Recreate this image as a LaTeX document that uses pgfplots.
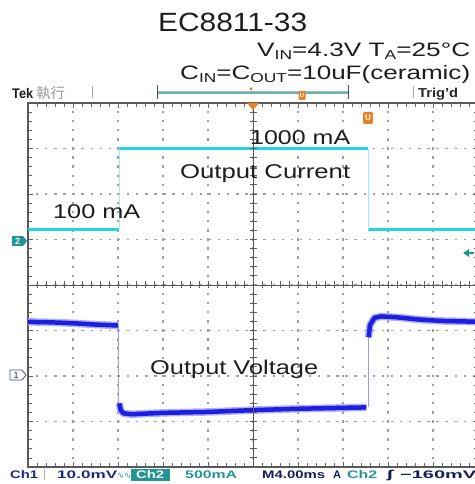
\documentclass[border=0pt]{standalone}
\usepackage{fontspec}
\setmainfont{Liberation Sans}
\newfontfamily\cjk{Noto Sans CJK TC}
\newfontfamily\dejavu{DejaVu Sans}
\usepackage{graphicx}
\usepackage{pgfplots}
\pgfplotsset{compat=1.18}
\definecolor{cyantrace}{RGB}{32,214,226}
\definecolor{bluetrace}{RGB}{30,30,225}
\definecolor{scopeteal}{RGB}{34,150,150}
\definecolor{scopenavy}{RGB}{30,40,130}
\definecolor{scopeorange}{RGB}{232,128,40}
\definecolor{txt}{RGB}{30,30,30}
\newcommand{\tx}[5]{\node[anchor=base west,inner sep=0pt,text=#4] at (#1bp,#2bp) {\resizebox{#3bp}{\height}{#5}};}
\newcommand{\sub}[1]{\raisebox{-3bp}{\fontsize{13}{13}\selectfont #1}}
\begin{document}
\begin{tikzpicture}
\useasboundingbox (0,0) rectangle (475bp,484bp);
\clip (0,0) rectangle (475bp,484bp);
\fill[white] (0,0) rectangle (475bp,484bp);
\begin{axis}[
  at={(28bp,17bp)}, anchor=south west,
  scale only axis, width=450bp, height=364bp,
  xmin=0, xmax=10, ymin=0, ymax=8,
  xtick={0,...,10}, ytick={0,...,8},
  minor x tick num=4, minor y tick num=4,
  xticklabels={}, yticklabels={},
  tick align=inside, major tick length=5bp, minor tick length=4bp,
  every tick/.style={gray!80!black, line width=0.7bp},
  axis line style={draw=gray!70!black, line width=1.3bp},
  grid=major,
  major grid style={gray!75, line width=1.1bp, dash pattern=on 2.4bp off 6.7bp, dash phase=1.2bp},
  clip=false,
]
% Output current (Ch2)
\addplot[cyantrace, line width=3bp] coordinates {(0,5.23) (2.02,5.23)};
\addplot[cyantrace, line width=3bp] coordinates {(2.02,7.0) (7.56,7.0)};
\addplot[cyantrace, line width=3bp] coordinates {(7.56,5.21) (10.1,5.21)};
\addplot[cyantrace!45, line width=0.8bp] coordinates {(2.02,5.23) (2.02,7.0)};
\addplot[cyantrace!45, line width=0.8bp] coordinates {(7.56,5.21) (7.56,7.0)};
% Output voltage (Ch1)
\addplot[bluetrace!45, line width=0.9bp] coordinates {(2.02,3.11) (2.02,1.42)};
\addplot[bluetrace!45, line width=0.9bp] coordinates {(7.56,1.31) (7.56,2.85)};
\addplot[bluetrace!35, line width=7.5bp, line join=round] coordinates {(0,3.19) (0.5,3.18) (1,3.16) (1.5,3.13) (2.0,3.11)};
\addplot[bluetrace, line width=4.5bp, line join=round] coordinates {(0,3.19) (0.5,3.18) (1,3.16) (1.5,3.13) (2.0,3.11)};
\addplot[bluetrace!35, line width=7.5bp, line join=round] coordinates {(2.03,1.40) (2.06,1.25) (2.12,1.18) (2.3,1.16) (3,1.19) (4,1.21) (5,1.25) (6,1.28) (7,1.30) (7.52,1.31)};
\addplot[bluetrace, line width=4.5bp, line join=round] coordinates {(2.03,1.40) (2.06,1.25) (2.12,1.18) (2.3,1.16) (3,1.19) (4,1.21) (5,1.25) (6,1.28) (7,1.30) (7.52,1.31)};
\addplot[bluetrace!35, line width=7.5bp, line join=round] coordinates {(7.57,2.85) (7.6,3.12) (7.7,3.28) (7.85,3.31) (8.2,3.29) (8.7,3.24) (9.2,3.21) (10.1,3.19)};
\addplot[bluetrace, line width=4.5bp, line join=round] coordinates {(7.57,2.85) (7.6,3.12) (7.7,3.28) (7.85,3.31) (8.2,3.29) (8.7,3.24) (9.2,3.21) (10.1,3.19)};
\end{axis}
% centre cross lines with ticks
\draw[gray!70!black, line width=0.8bp] (253bp,17bp) -- (253bp,381bp);
\draw[gray!70!black, line width=0.8bp] (28bp,199bp) -- (478bp,199bp);
\foreach \k in {0,...,50} {\draw[gray!75!black, line width=0.8bp] ({(28+9*\k)*1bp},195.5bp) -- ({(28+9*\k)*1bp},202.5bp);}
\foreach \k in {0,...,40} {\draw[gray!75!black, line width=0.8bp] (249.5bp,{(17+9.1*\k)*1bp}) -- (256.5bp,{(17+9.1*\k)*1bp});}
% in-plot labels
\tx{250}{339}{100}{txt}{\fontsize{20}{22}\selectfont 1000 mA}
\tx{180}{305}{170}{txt}{\fontsize{20}{22}\selectfont Output Current}
\tx{53}{265}{87}{txt}{\fontsize{20}{22}\selectfont 100 mA}
\tx{150}{109}{168}{txt}{\fontsize{20}{22}\selectfont Output Voltage}
% titles
\tx{158}{452}{149}{txt}{\fontsize{26.5}{30}\selectfont EC8811-33}
\tx{257}{427}{213}{txt}{\fontsize{19.5}{22}\selectfont V\sub{IN}=4.3V T\sub{A}=25°C}
\tx{180}{404}{290}{txt}{\fontsize{19.5}{22}\selectfont C\sub{IN}=C\sub{OUT}=10uF(ceramic)}
% top status bar
\tx{12}{385}{21}{txt}{\fontsize{14}{14}\selectfont\bfseries Tek}
\node[anchor=base west,inner sep=0pt,text=gray!80] at (36bp,385bp) {\cjk\fontsize{14.5}{14.5}\selectfont 執行};
\draw[gray!70, line width=1bp] (92bp,386bp) -- (92bp,398bp);
\draw[gray!60, line width=0.8bp] (157bp,393bp) -- (348bp,393bp);
\draw[scopeteal!70, line width=1.5bp] (157bp,391bp) -- (348bp,391bp);
\draw[gray!60!black, line width=1bp] (157bp,385bp) -- (157bp,399bp);
\draw[gray!60!black, line width=1bp] (348bp,385bp) -- (348bp,399bp);
\fill[scopeorange] (251bp,395bp) circle (1.6bp);
\fill[scopeorange, rounded corners=1bp] (298.5bp,384bp) rectangle (305.5bp,393bp);
\node[text=white, inner sep=0pt, font=\fontsize{6}{6}\selectfont\bfseries] at (302bp,388.5bp) {U};
\draw[gray!70, line width=1bp] (413bp,386bp) -- (413bp,398bp);
\tx{418}{386}{40}{gray!30!black}{\fontsize{13}{13}\selectfont\bfseries Trig'd}
% trigger markers
\fill[scopeorange] (247bp,381bp) -- (259bp,381bp) -- (253bp,374bp) -- cycle;
\fill[scopeorange, rounded corners=1.5bp] (363bp,360bp) rectangle (373bp,372bp);
\node[text=white, inner sep=0pt, font=\fontsize{8}{8}\selectfont\bfseries] at (368bp,366bp) {U};
% channel markers
\fill[scopeteal] (12bp,238bp) rectangle (23bp,248bp);
\fill[scopeteal] (23bp,248bp) -- (27bp,243bp) -- (23bp,238bp) -- cycle;
\node[text=white, inner sep=0pt, font=\fontsize{9}{9}\selectfont\bfseries] at (17.5bp,243bp) {2};
\draw[gray!60!blue, line width=0.8bp, fill=white] (10bp,104bp) -- (22bp,104bp) -- (26bp,109bp) -- (22bp,114bp) -- (10bp,114bp) -- cycle;
\node[text=scopenavy, inner sep=0pt, font=\fontsize{9}{9}\selectfont] at (16bp,109bp) {1};
\fill[scopeteal] (463bp,231bp) -- (469bp,235bp) -- (469bp,227bp) -- cycle;
\draw[scopeteal, line width=1.2bp] (468bp,231bp) -- (474bp,231bp);
% bottom status line
\tx{10}{6}{28}{scopenavy}{\fontsize{11}{11}\selectfont\bfseries Ch1}
\draw[gray!60, line width=0.8bp] (44bp,4bp) -- (44bp,15bp);
\tx{57}{6}{60}{scopenavy}{\fontsize{11}{11}\selectfont\bfseries 10.0mV}
\tx{117}{6}{14}{scopeteal}{\dejavu\fontsize{9}{9}\selectfont ∿∿}
\fill[scopeteal] (131bp,3bp) rectangle (170bp,15bp);
\tx{136}{6}{28}{white}{\fontsize{11}{11}\selectfont\bfseries Ch2}
\tx{185}{6}{52}{scopeteal}{\fontsize{11}{11}\selectfont\bfseries 500mA}
\tx{262}{6}{63}{scopenavy!70!black}{\fontsize{11}{11}\selectfont\bfseries M4.00ms}
\tx{333}{6}{8}{scopenavy!70!black}{\fontsize{11}{11}\selectfont\bfseries A}
\tx{347}{6}{30}{scopeteal}{\fontsize{11}{11}\selectfont\bfseries Ch2}
\tx{387}{6}{7}{scopenavy!70!black}{\dejavu\fontsize{11}{11}\selectfont\bfseries ʃ}
\tx{400}{6}{76}{scopenavy!70!black}{\fontsize{11}{11}\selectfont\bfseries −160mV}
\end{tikzpicture}
\end{document}
